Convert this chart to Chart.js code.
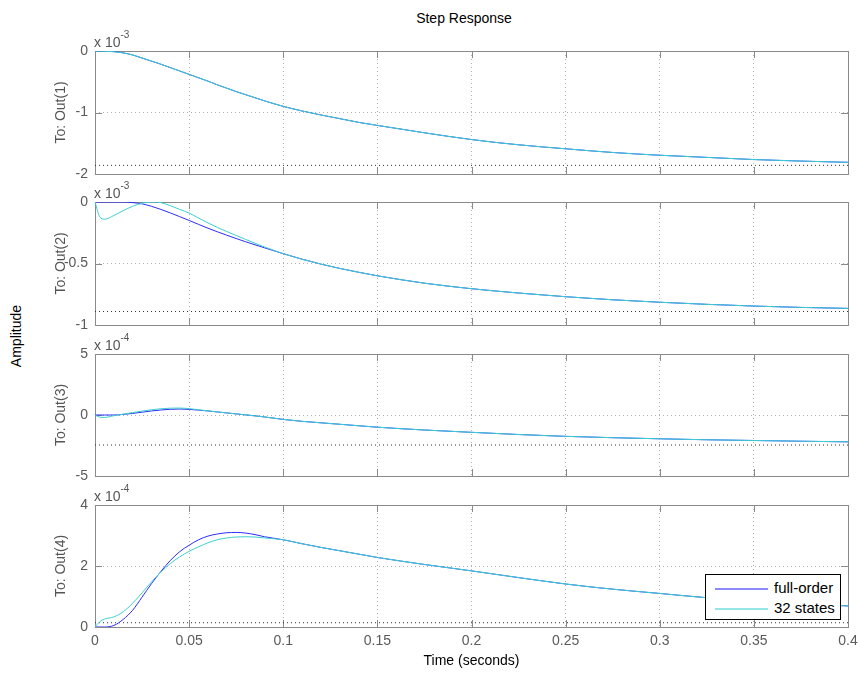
<!DOCTYPE html>
<html>
<head>
<meta charset="utf-8">
<title>Step Response</title>
<script src="https://cdn.jsdelivr.net/npm/chart.js@4.4.1/dist/chart.umd.min.js"></script>
<style>
    body { margin: 0; background: #fff; font-family: "Liberation Sans", Arial, sans-serif; }
    #fig { position: relative; width: 860px; height: 675px; overflow: hidden; }
    #fig canvas { position: absolute; left: 0; }
    .title { position: absolute; left: 464px; top: 18px; transform: translate(-50%, -50%); font-size: 14px; color: #000; white-space: nowrap; }
    .ylab { position: absolute; left: 16px; top: 336px; transform: translate(-50%, -50%) rotate(-90deg); font-size: 14px; color: #000; white-space: nowrap; }
    .expo { position: absolute; left: 94px; font-size: 14px; line-height: 14px; color: #555; white-space: nowrap; }
    .expo sup { font-size: 10px; position: relative; top: -3px; }
    .legend { position: absolute; left: 705px; top: 574px; width: 134px; height: 44px; border: 1px solid #000; background: #fff; z-index: 5; }
    .legend .item { position: absolute; left: 9px; height: 18px; font-size: 15px; line-height: 18px; color: #000; white-space: nowrap; }
    .legend .swatch { display: inline-block; width: 53px; height: 2px; vertical-align: middle; margin-right: 6px; opacity: 0.55; }
</style>
</head>
<body>
<div id="fig">
    <div class="title">Step Response</div>
    <div class="ylab">Amplitude</div>
</div>
<script>
    // Временная сетка (с)
    const timeS = [0, 0.0025, 0.005, 0.01, 0.015, 0.02, 0.025, 0.03, 0.035, 0.04, 0.045, 0.05,
        0.055, 0.06, 0.065, 0.07, 0.075, 0.08, 0.085, 0.09, 0.1, 0.11, 0.12, 0.13, 0.14, 0.15,
        0.175, 0.2, 0.225, 0.25, 0.275, 0.3, 0.325, 0.35, 0.375, 0.4];

    // Переходные характеристики, полная модель (в единицах 10^exp)
    const out1Full = [0, 0, 0, -0.01, -0.03, -0.065, -0.115, -0.165, -0.215, -0.27, -0.325, -0.38,
        -0.435, -0.49, -0.55, -0.605, -0.66, -0.71, -0.76, -0.81, -0.9, -0.975, -1.04, -1.1, -1.16, -1.21,
        -1.33, -1.44, -1.525, -1.59, -1.65, -1.695, -1.73, -1.765, -1.79, -1.81];
    const out2Full = [0, 0, 0, 0, 0, -0.005, -0.015, -0.035, -0.06, -0.089, -0.119, -0.15,
        -0.182, -0.213, -0.242, -0.27, -0.297, -0.323, -0.348, -0.372, -0.42, -0.465, -0.505, -0.54, -0.571, -0.6,
        -0.66, -0.705, -0.74, -0.77, -0.795, -0.815, -0.832, -0.846, -0.857, -0.865];
    const out3Full = [0, 0, 0, 0, 0.05, 0.13, 0.23, 0.33, 0.41, 0.47, 0.49, 0.46,
        0.4, 0.33, 0.25, 0.17, 0.09, 0.01, -0.07, -0.16, -0.36, -0.52, -0.64, -0.76, -0.88, -1.0,
        -1.23, -1.42, -1.6, -1.75, -1.86, -1.95, -2.03, -2.09, -2.15, -2.2];
    const out4Full = [0, 0, 0, 0.05, 0.25, 0.55, 0.98, 1.42, 1.82, 2.18, 2.47, 2.68,
        2.86, 2.98, 3.05, 3.09, 3.1, 3.08, 3.03, 2.96, 2.86, 2.73, 2.61, 2.5, 2.39, 2.28,
        2.05, 1.84, 1.62, 1.41, 1.24, 1.1, 0.96, 0.85, 0.76, 0.69];

    // Редуцированная модель, 32 состояния
    const out1Red = [0, 0, -0.003, -0.012, -0.032, -0.065, -0.112, -0.162, -0.215, -0.27, -0.325, -0.38,
        -0.435, -0.49, -0.55, -0.605, -0.66, -0.71, -0.76, -0.81, -0.9, -0.975, -1.04, -1.1, -1.16, -1.21,
        -1.33, -1.44, -1.525, -1.59, -1.65, -1.695, -1.73, -1.765, -1.79, -1.81];
    const out2Red = [0, -0.12, -0.14, -0.11, -0.07, -0.035, -0.01, 0, -0.005, -0.03, -0.06, -0.09,
        -0.13, -0.17, -0.207, -0.24, -0.272, -0.304, -0.335, -0.365, -0.42, -0.465, -0.505, -0.54, -0.571, -0.6,
        -0.66, -0.705, -0.74, -0.77, -0.795, -0.815, -0.832, -0.846, -0.857, -0.865];
    const out3Red = [0, -0.18, -0.2, -0.06, 0.07, 0.2, 0.32, 0.43, 0.51, 0.56, 0.57, 0.52,
        0.43, 0.34, 0.25, 0.17, 0.09, 0.01, -0.07, -0.16, -0.36, -0.52, -0.64, -0.76, -0.88, -1.0,
        -1.23, -1.42, -1.6, -1.75, -1.86, -1.95, -2.03, -2.09, -2.15, -2.2];
    const out4Red = [0, 0.17, 0.26, 0.33, 0.5, 0.78, 1.12, 1.48, 1.8, 2.08, 2.3, 2.48,
        2.63, 2.76, 2.86, 2.92, 2.95, 2.96, 2.95, 2.92, 2.86, 2.73, 2.61, 2.5, 2.39, 2.28,
        2.05, 1.84, 1.62, 1.41, 1.24, 1.1, 0.96, 0.85, 0.76, 0.69];

    // Установившиеся значения
    const steadyState = [-1.86, -0.89, -2.46, 0.14];

    // Оси
    const outLabels = ['To: Out(1)', 'To: Out(2)', 'To: Out(3)', 'To: Out(4)'];
    const yMins = [-2, -1, -5, 0];
    const yMaxs = [0, 0, 5, 4];
    const ySteps = [1, 0.5, 5, 2];
    const exponents = [-3, -3, -4, -4];
    const seriesNames = ['full-order', '32 states'];
    const seriesColors = ['#2b2bff', '#3ccfcf'];

    const fullOrder = [out1Full, out2Full, out3Full, out4Full];
    const reduced = [out1Red, out2Red, out3Red, out4Red];

    // Геометрия подграфиков (px)
    const plotTops = [51, 202, 354, 505];
    const plotHeights = [123, 123, 122, 122];
    const axisLeft = 95;
    const plotRight = 848;
    const pad = 20;

    Chart.defaults.font.family = '"Liberation Sans", Arial, sans-serif';

    const fmt = v => String(+v.toFixed(2));

    // Рамка и внутренние засечки как в MATLAB
    const boxTicks = {
        id: 'boxTicks',
        beforeDatasetsDraw(chart) {
            const { ctx, chartArea: a, scales: { x, y } } = chart;
            const L = 7;
            ctx.save();
            ctx.strokeStyle = '#8a8a8a';
            ctx.lineWidth = 1;
            ctx.beginPath();
            x.ticks.forEach(t => {
                const px = Math.round(x.getPixelForValue(t.value)) + 0.5;
                ctx.moveTo(px, a.top); ctx.lineTo(px, a.top + L);
                ctx.moveTo(px, a.bottom); ctx.lineTo(px, a.bottom - L);
            });
            y.ticks.forEach(t => {
                const py = Math.round(y.getPixelForValue(t.value)) + 0.5;
                ctx.moveTo(a.left, py); ctx.lineTo(a.left + L, py);
                ctx.moveTo(a.right, py); ctx.lineTo(a.right - L, py);
            });
            ctx.stroke();
            ctx.strokeRect(Math.round(a.left) + 0.5, Math.round(a.top) + 0.5,
                Math.round(a.width), Math.round(a.height));
            ctx.restore();
        }
    };

    const fig = document.getElementById('fig');

    outLabels.forEach((label, i) => {
        const last = i === outLabels.length - 1;
        const top = plotTops[i] - pad;
        const height = last ? 675 - top : plotHeights[i] + 2 * pad;

        const canvas = document.createElement('canvas');
        canvas.width = plotRight + pad;
        canvas.height = height;
        canvas.style.top = top + 'px';
        fig.appendChild(canvas);

        // Множитель оси
        const expo = document.createElement('div');
        expo.className = 'expo';
        expo.style.top = (plotTops[i] - 20) + 'px';
        expo.innerHTML = `x 10<sup>${exponents[i]}</sup>`;
        fig.appendChild(expo);

        const toPts = arr => arr.map((v, k) => ({ x: timeS[k], y: v }));

        new Chart(canvas.getContext('2d'), {
            type: 'line',
            data: {
                datasets: [
                    {
                        label: seriesNames[0],
                        data: toPts(fullOrder[i]),
                        borderColor: seriesColors[0],
                        borderWidth: 1,
                        pointRadius: 0,
                        cubicInterpolationMode: 'monotone',
                        order: 2
                    },
                    {
                        label: seriesNames[1],
                        data: toPts(reduced[i]),
                        borderColor: seriesColors[1],
                        borderWidth: 1,
                        pointRadius: 0,
                        cubicInterpolationMode: 'monotone',
                        order: 1
                    },
                    {
                        label: 'steady',
                        data: [{ x: timeS[0], y: steadyState[i] }, { x: timeS[timeS.length - 1], y: steadyState[i] }],
                        borderColor: '#333',
                        borderWidth: 1,
                        borderDash: [1, 3],
                        pointRadius: 0,
                        order: 3
                    }
                ]
            },
            options: {
                responsive: false,
                animation: false,
                layout: { padding: { top: pad, bottom: last ? 0 : pad, left: 0, right: pad } },
                plugins: { legend: { display: false }, tooltip: { enabled: false } },
                scales: {
                    x: {
                        type: 'linear',
                        min: 0,
                        max: 0.4,
                        ticks: {
                            display: last,
                            stepSize: 0.05,
                            padding: 6,
                            color: '#5a5a5a',
                            font: { size: 14 },
                            maxRotation: 0,
                            callback: fmt
                        },
                        grid: { color: '#b0b0b0', drawTicks: false },
                        border: { display: false, dash: [1, 3] },
                        title: {
                            display: last,
                            text: 'Time (seconds)',
                            color: '#000',
                            font: { size: 14 },
                            padding: { top: 0, bottom: 5 }
                        },
                        afterFit: s => { s.height = last ? 48 : 0; }
                    },
                    y: {
                        min: yMins[i],
                        max: yMaxs[i],
                        ticks: {
                            stepSize: ySteps[i],
                            padding: 7,
                            color: '#5a5a5a',
                            font: { size: 14 },
                            callback: fmt
                        },
                        grid: { color: '#b0b0b0', drawTicks: false },
                        border: { display: false, dash: [1, 3] },
                        title: {
                            display: true,
                            text: label,
                            color: '#555',
                            font: { size: 14 },
                            padding: { top: 53, bottom: 0 }
                        },
                        afterFit: s => { s.width = axisLeft; }
                    }
                }
            },
            plugins: [boxTicks]
        });
    });

    // Легенда поверх графиков
    const legend = document.createElement('div');
    legend.className = 'legend';
    seriesNames.forEach((name, k) => {
        const item = document.createElement('div');
        item.className = 'item';
        item.style.top = (4 + k * 20) + 'px';
        item.innerHTML = `<span class="swatch" style="background:${seriesColors[k]}"></span>${name}`;
        legend.appendChild(item);
    });
    fig.appendChild(legend);
</script>
</body>
</html>
